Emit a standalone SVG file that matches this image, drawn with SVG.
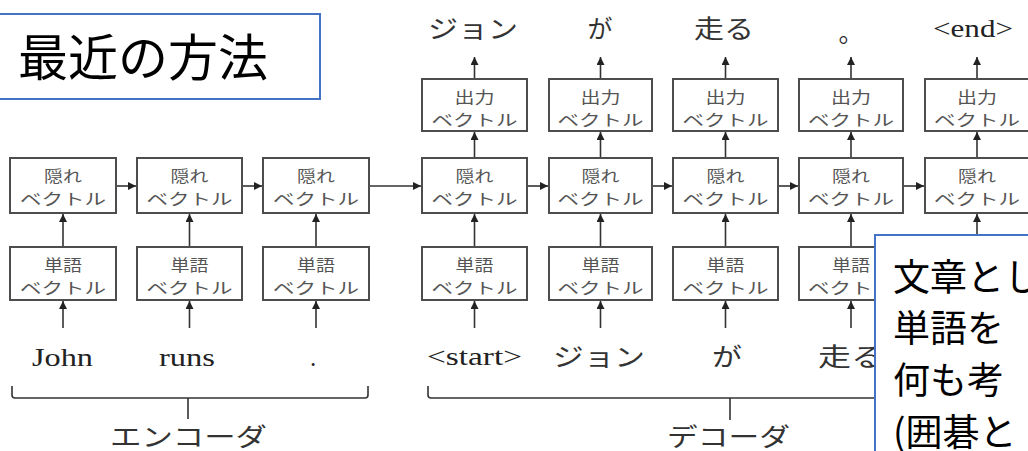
<svg xmlns="http://www.w3.org/2000/svg" width="1028" height="451" viewBox="0 0 1028 451">
<defs>
<style>
.box{fill:#fff;stroke:#4d4d4d;stroke-width:2}
.bt{font-family:"Noto Sans CJK JP",sans-serif;font-size:15.5px;fill:#555;text-anchor:middle}
.lbl{font-family:"Noto Sans CJK JP",sans-serif;font-size:25px;fill:#333;text-anchor:middle}
.en{font-family:"Liberation Serif",serif;font-size:25px;fill:#222;text-anchor:middle}
.ln{stroke:#333;stroke-width:1.6;fill:none}
.blue{fill:#fff;stroke:#4472C4;stroke-width:2}
.big{font-family:"Noto Sans CJK JP",sans-serif;fill:#000}
</style>
<marker id="ah" viewBox="0 0 10 10" refX="10" refY="5" markerWidth="8" markerHeight="8" markerUnits="userSpaceOnUse" orient="auto">
<path d="M0,0 L10,5 L0,10 z" fill="#222"/>
</marker>
</defs>

<g id="title">
<rect class="blue" x="-5" y="14" width="325" height="85"/>
<text class="big" x="18" y="76" font-size="50">最近の方法</text>
</g>

<g id="connectors">
<line class="ln" x1="63" y1="328" x2="63" y2="301" marker-end="url(#ah)"/>
<line class="ln" x1="189.5" y1="328" x2="189.5" y2="301" marker-end="url(#ah)"/>
<line class="ln" x1="316" y1="328" x2="316" y2="301" marker-end="url(#ah)"/>
<line class="ln" x1="474.5" y1="328" x2="474.5" y2="301" marker-end="url(#ah)"/>
<line class="ln" x1="600.5" y1="328" x2="600.5" y2="301" marker-end="url(#ah)"/>
<line class="ln" x1="725.5" y1="328" x2="725.5" y2="301" marker-end="url(#ah)"/>
<line class="ln" x1="851" y1="328" x2="851" y2="301" marker-end="url(#ah)"/>
<line class="ln" x1="63" y1="247" x2="63" y2="214" marker-end="url(#ah)"/>
<line class="ln" x1="189.5" y1="247" x2="189.5" y2="214" marker-end="url(#ah)"/>
<line class="ln" x1="316" y1="247" x2="316" y2="214" marker-end="url(#ah)"/>
<line class="ln" x1="474.5" y1="247" x2="474.5" y2="214" marker-end="url(#ah)"/>
<line class="ln" x1="600.5" y1="247" x2="600.5" y2="214" marker-end="url(#ah)"/>
<line class="ln" x1="725.5" y1="247" x2="725.5" y2="214" marker-end="url(#ah)"/>
<line class="ln" x1="851" y1="247" x2="851" y2="214" marker-end="url(#ah)"/>
<line class="ln" x1="977" y1="247" x2="977" y2="214" marker-end="url(#ah)"/>
<line class="ln" x1="474.5" y1="158" x2="474.5" y2="132" marker-end="url(#ah)"/>
<line class="ln" x1="600.5" y1="158" x2="600.5" y2="132" marker-end="url(#ah)"/>
<line class="ln" x1="725.5" y1="158" x2="725.5" y2="132" marker-end="url(#ah)"/>
<line class="ln" x1="851" y1="158" x2="851" y2="132" marker-end="url(#ah)"/>
<line class="ln" x1="977" y1="158" x2="977" y2="132" marker-end="url(#ah)"/>
<line class="ln" x1="474.5" y1="79" x2="474.5" y2="57" marker-end="url(#ah)"/>
<line class="ln" x1="600.5" y1="79" x2="600.5" y2="57" marker-end="url(#ah)"/>
<line class="ln" x1="725.5" y1="79" x2="725.5" y2="57" marker-end="url(#ah)"/>
<line class="ln" x1="851" y1="79" x2="851" y2="57" marker-end="url(#ah)"/>
<line class="ln" x1="977" y1="79" x2="977" y2="57" marker-end="url(#ah)"/>
<line class="ln" x1="116" y1="186" x2="136" y2="186" marker-end="url(#ah)"/>
<line class="ln" x1="242" y1="186" x2="262" y2="186" marker-end="url(#ah)"/>
<line class="ln" x1="369" y1="186" x2="421" y2="186" marker-end="url(#ah)"/>
<line class="ln" x1="527" y1="186" x2="548" y2="186" marker-end="url(#ah)"/>
<line class="ln" x1="652" y1="186" x2="672" y2="186" marker-end="url(#ah)"/>
<line class="ln" x1="778" y1="186" x2="798" y2="186" marker-end="url(#ah)"/>
<line class="ln" x1="903" y1="186" x2="924" y2="186" marker-end="url(#ah)"/>
<path class="ln" d="M12,386 V395 Q12,398 15,398 H365 Q368,398 368,395 V386 M188,398 V419"/>
<path class="ln" d="M428,386 V395 Q428,398 431,398 H1020 M730,398 V420"/>
</g>

<g id="enc1"><rect class="box" x="10" y="158" width="106" height="55"/><text class="bt" x="63" y="182" textLength="38" lengthAdjust="spacingAndGlyphs">隠れ</text><text class="bt" x="63" y="205" textLength="86" lengthAdjust="spacingAndGlyphs">ベクトル</text></g>
<g id="enc2"><rect class="box" x="137" y="158" width="105" height="55"/><text class="bt" x="189.5" y="182" textLength="38" lengthAdjust="spacingAndGlyphs">隠れ</text><text class="bt" x="189.5" y="205" textLength="86" lengthAdjust="spacingAndGlyphs">ベクトル</text></g>
<g id="enc3"><rect class="box" x="263" y="158" width="106" height="55"/><text class="bt" x="316" y="182" textLength="38" lengthAdjust="spacingAndGlyphs">隠れ</text><text class="bt" x="316" y="205" textLength="86" lengthAdjust="spacingAndGlyphs">ベクトル</text></g>
<g id="encw1"><rect class="box" x="10" y="247" width="106" height="53"/><text class="bt" x="63" y="271" textLength="38" lengthAdjust="spacingAndGlyphs">単語</text><text class="bt" x="63" y="294" textLength="86" lengthAdjust="spacingAndGlyphs">ベクトル</text></g>
<g id="encw2"><rect class="box" x="137" y="247" width="105" height="53"/><text class="bt" x="189.5" y="271" textLength="38" lengthAdjust="spacingAndGlyphs">単語</text><text class="bt" x="189.5" y="294" textLength="86" lengthAdjust="spacingAndGlyphs">ベクトル</text></g>
<g id="encw3"><rect class="box" x="263" y="247" width="106" height="53"/><text class="bt" x="316" y="271" textLength="38" lengthAdjust="spacingAndGlyphs">単語</text><text class="bt" x="316" y="294" textLength="86" lengthAdjust="spacingAndGlyphs">ベクトル</text></g>

<g id="dec1"><rect class="box" x="422" y="158" width="105" height="55"/><text class="bt" x="474.5" y="182" textLength="38" lengthAdjust="spacingAndGlyphs">隠れ</text><text class="bt" x="474.5" y="205" textLength="86" lengthAdjust="spacingAndGlyphs">ベクトル</text></g>
<g id="dec2"><rect class="box" x="549" y="158" width="103" height="55"/><text class="bt" x="600.5" y="182" textLength="38" lengthAdjust="spacingAndGlyphs">隠れ</text><text class="bt" x="600.5" y="205" textLength="86" lengthAdjust="spacingAndGlyphs">ベクトル</text></g>
<g id="dec3"><rect class="box" x="673" y="158" width="105" height="55" stroke="#777"/><text class="bt" x="725.5" y="182" textLength="38" lengthAdjust="spacingAndGlyphs">隠れ</text><text class="bt" x="725.5" y="205" textLength="86" lengthAdjust="spacingAndGlyphs">ベクトル</text></g>
<g id="dec4"><rect class="box" x="799" y="158" width="104" height="55"/><text class="bt" x="851" y="182" textLength="38" lengthAdjust="spacingAndGlyphs">隠れ</text><text class="bt" x="851" y="205" textLength="86" lengthAdjust="spacingAndGlyphs">ベクトル</text></g>
<g id="dec5"><rect class="box" x="925" y="158" width="105" height="55"/><text class="bt" x="977" y="182" textLength="38" lengthAdjust="spacingAndGlyphs">隠れ</text><text class="bt" x="977" y="205" textLength="86" lengthAdjust="spacingAndGlyphs">ベクトル</text></g>

<g id="out1"><rect class="box" x="422" y="79" width="105" height="52"/><text class="bt" x="474.5" y="103" textLength="40" lengthAdjust="spacingAndGlyphs">出力</text><text class="bt" x="474.5" y="126" textLength="86" lengthAdjust="spacingAndGlyphs">ベクトル</text></g>
<g id="out2"><rect class="box" x="549" y="79" width="103" height="52"/><text class="bt" x="600.5" y="103" textLength="40" lengthAdjust="spacingAndGlyphs">出力</text><text class="bt" x="600.5" y="126" textLength="86" lengthAdjust="spacingAndGlyphs">ベクトル</text></g>
<g id="out3"><rect class="box" x="673" y="79" width="105" height="52" stroke="#777"/><text class="bt" x="725.5" y="103" textLength="40" lengthAdjust="spacingAndGlyphs">出力</text><text class="bt" x="725.5" y="126" textLength="86" lengthAdjust="spacingAndGlyphs">ベクトル</text></g>
<g id="out4"><rect class="box" x="799" y="79" width="104" height="52"/><text class="bt" x="851" y="103" textLength="40" lengthAdjust="spacingAndGlyphs">出力</text><text class="bt" x="851" y="126" textLength="86" lengthAdjust="spacingAndGlyphs">ベクトル</text></g>
<g id="out5"><rect class="box" x="925" y="79" width="105" height="52"/><text class="bt" x="977" y="103" textLength="40" lengthAdjust="spacingAndGlyphs">出力</text><text class="bt" x="977" y="126" textLength="86" lengthAdjust="spacingAndGlyphs">ベクトル</text></g>

<g id="decw1"><rect class="box" x="422" y="247" width="105" height="53"/><text class="bt" x="474.5" y="271" textLength="38" lengthAdjust="spacingAndGlyphs">単語</text><text class="bt" x="474.5" y="294" textLength="86" lengthAdjust="spacingAndGlyphs">ベクトル</text></g>
<g id="decw2"><rect class="box" x="549" y="247" width="103" height="53"/><text class="bt" x="600.5" y="271" textLength="38" lengthAdjust="spacingAndGlyphs">単語</text><text class="bt" x="600.5" y="294" textLength="86" lengthAdjust="spacingAndGlyphs">ベクトル</text></g>
<g id="decw3"><rect class="box" x="673" y="247" width="105" height="53" stroke="#777"/><text class="bt" x="725.5" y="271" textLength="38" lengthAdjust="spacingAndGlyphs">単語</text><text class="bt" x="725.5" y="294" textLength="86" lengthAdjust="spacingAndGlyphs">ベクトル</text></g>
<g id="decw4"><rect class="box" x="799" y="247" width="104" height="53"/><text class="bt" x="851" y="271" textLength="38" lengthAdjust="spacingAndGlyphs">単語</text><text class="bt" x="851" y="294" textLength="86" lengthAdjust="spacingAndGlyphs">ベクトル</text></g>

<g id="top-labels">
<text class="lbl" x="473" y="38" textLength="90" lengthAdjust="spacingAndGlyphs">ジョン</text>
<text class="lbl" x="600" y="38">が</text>
<text class="lbl" x="724" y="38" textLength="60" lengthAdjust="spacingAndGlyphs">走る</text>
<text class="lbl" x="851" y="42">。</text>
<text class="en" x="973" y="37" textLength="80" lengthAdjust="spacingAndGlyphs">&lt;end&gt;</text>
</g>

<g id="bottom-labels">
<text class="en" x="62.5" y="366" textLength="61" lengthAdjust="spacingAndGlyphs">John</text>
<text class="en" x="187" y="366" textLength="56" lengthAdjust="spacingAndGlyphs">runs</text>
<text class="en" x="313" y="366">.</text>
<text class="en" x="474.5" y="365" textLength="95" lengthAdjust="spacingAndGlyphs">&lt;start&gt;</text>
<text class="lbl" x="599" y="366" textLength="92" lengthAdjust="spacingAndGlyphs">ジョン</text>
<text class="lbl" x="727" y="366" textLength="30" lengthAdjust="spacingAndGlyphs">が</text>
<text class="lbl" x="851" y="366" textLength="66" lengthAdjust="spacingAndGlyphs">走る</text>
<text class="lbl" x="188.5" y="446" textLength="157" lengthAdjust="spacingAndGlyphs">エンコーダ</text>
<text class="lbl" x="728.5" y="446" textLength="123" lengthAdjust="spacingAndGlyphs">デコーダ</text>
</g>

<g id="note">
<rect class="blue" x="875" y="235" width="200" height="260"/>
<text class="big" x="893" y="291" font-size="37">文章とし</text>
<text class="big" x="893" y="342" font-size="37">単語を</text>
<text class="big" x="893" y="394" font-size="37">何も考</text>
<text class="big" x="893" y="446" font-size="37">(囲碁と</text>
</g>
</svg>
